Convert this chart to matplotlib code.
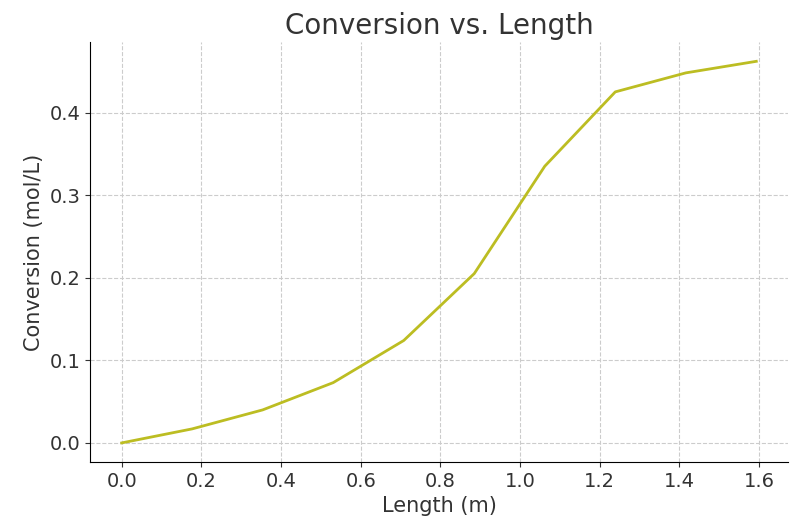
import matplotlib
matplotlib.use("Agg")
import matplotlib.pyplot as plt

length_m = [0.0, 0.177, 0.354, 0.531, 0.708, 0.885, 1.062, 1.239, 1.416, 1.593]
conversion = [0.0, 0.017, 0.040, 0.073, 0.124, 0.205, 0.335, 0.425, 0.448, 0.462]

plt.rcParams['text.color'] = '#333333'
plt.rcParams['axes.labelcolor'] = '#333333'
plt.rcParams['xtick.color'] = '#333333'
plt.rcParams['ytick.color'] = '#333333'

fig, ax = plt.subplots(figsize=(7.96, 5.28), dpi=100)
ax.plot(length_m, conversion, color='#bcbd22', linewidth=2)
ax.set_title('Conversion vs. Length', fontsize=20)
ax.set_xlabel('Length (m)', fontsize=15)
ax.set_ylabel('Conversion (mol/L)', fontsize=15)
ax.tick_params(labelsize=14)
ax.grid(True, linestyle='--', color='#cccccc', linewidth=0.8)
ax.spines['top'].set_visible(False)
ax.spines['right'].set_visible(False)
ax.set_yticks([0.0, 0.1, 0.2, 0.3, 0.4])
fig.subplots_adjust(left=0.113, right=0.99, top=0.92, bottom=0.125)
plt.savefig('out.png')
